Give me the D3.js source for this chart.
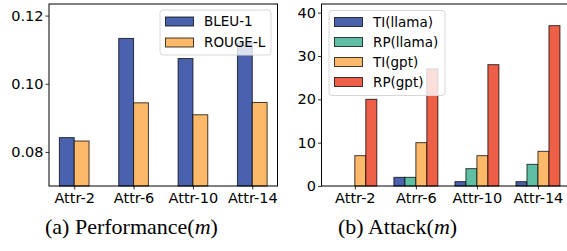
<!DOCTYPE html>
<html>
<head>
<meta charset="utf-8">
<script src="https://cdn.jsdelivr.net/npm/d3@7"></script>
<style>
  body { margin: 0; background: #fff; }
  svg { display: block; }
  .tick text { font-family: "DejaVu Sans", sans-serif; }
</style>
</head>
<body>
<div id="chart"></div>
<script>
// data
const perfCats = ["Attr-2", "Attr-6", "Attr-10", "Attr-14"];
const bleu1 = [0.0842, 0.1133, 0.1074, 0.1120];
const rougeL = [0.0832, 0.0944, 0.0909, 0.0945];
const perfTicks = [0.08, 0.10, 0.12];

const attackCats = ["Attr-2", "Atrr-6", "Attr-10", "Attr-14"];
const tiLlama = [0, 2, 1, 1];
const rpLlama = [0, 2, 4, 5];
const tiGpt = [7, 10, 7, 8];
const rpGpt = [20, 27, 28, 37];
const attackTicks = [0, 10, 20, 30, 40];

const colors = { blue: "#4a62ad", green: "#5fbfa5", orange: "#fdb96a", red: "#ee5f48" };

const W = 567, H = 251;
const plotTop = 4, plotBottom = 186;

const svg = d3.select("#chart").append("svg")
    .attr("width", W)
    .attr("height", H);

function panel(opts) {
    const x = d3.scaleLinear().domain(opts.xDomain).range(opts.xRange);
    const y = d3.scaleLinear().domain(opts.yDomain).range([plotBottom, plotTop]);
    const n = opts.series.length;
    const bw = opts.barWidth;

    const g = svg.append("g");

    // bars
    opts.series.forEach((s, i) => {
        const off = (i - (n - 1) / 2) * bw;
        g.selectAll(null)
            .data(s.values)
            .enter().append("rect")
            .attr("x", (d, j) => x(j + off - bw / 2))
            .attr("width", x(bw) - x(0))
            .attr("y", d => y(d))
            .attr("height", d => y(opts.yDomain[0]) - y(d))
            .style("fill", s.color)
            .style("stroke", "#000")
            .style("stroke-opacity", 0.75)
            .style("stroke-width", 1);
    });

    // axes
    const xAxis = g.append("g")
        .attr("transform", "translate(0," + plotBottom + ")")
        .call(d3.axisBottom(x).tickValues(d3.range(opts.cats.length))
            .tickFormat(i => opts.cats[i]).tickSize(3.5).tickSizeOuter(0));
    const yAxis = g.append("g")
        .attr("transform", "translate(" + opts.xRange[0] + ",0)")
        .call(d3.axisLeft(y).tickValues(opts.yTicks).tickFormat(opts.yFormat)
            .tickSize(3.5).tickSizeOuter(0));
    [xAxis, yAxis].forEach(a => {
        a.select(".domain").remove();
        a.selectAll(".tick line").style("stroke", "#000").style("stroke-width", 0.8);
        a.selectAll(".tick text").style("font-size", "14.5px").style("fill", "#000");
    });
    xAxis.selectAll(".tick text").attr("dy", "0.85em").attr("y", 4.5);
    yAxis.selectAll(".tick text").attr("x", -5.5);

    // frame
    g.append("rect")
        .attr("x", opts.xRange[0])
        .attr("y", plotTop)
        .attr("width", opts.xRange[1] - opts.xRange[0])
        .attr("height", plotBottom - plotTop)
        .style("fill", "none")
        .style("stroke", "#000")
        .style("stroke-width", 1);

    // legend
    const L = opts.legend;
    const lg = g.append("g").attr("transform", "translate(" + L.x + "," + L.y + ")");
    lg.append("rect")
        .attr("width", L.w)
        .attr("height", L.h)
        .attr("rx", 3)
        .style("fill", "#fff")
        .style("fill-opacity", 0.8)
        .style("stroke", "#d8d8d8")
        .style("stroke-width", 1);
    opts.series.forEach((s, i) => {
        const row = lg.append("g").attr("transform", "translate(0," + (7 + i * L.step) + ")");
        row.append("rect")
            .attr("x", 5.5)
            .attr("width", 28)
            .attr("height", 9)
            .style("fill", s.color)
            .style("stroke", "#000")
            .style("stroke-opacity", 0.75);
        row.append("text")
            .attr("x", 44)
            .attr("y", 4.5)
            .attr("dy", "0.35em")
            .style("font-family", "DejaVu Sans, sans-serif")
            .style("font-size", "13.5px")
            .text(s.name);
    });

    // caption
    const cap = svg.append("text")
        .attr("x", opts.caption.x)
        .attr("y", 234)
        .style("font-family", "Liberation Serif, serif")
        .style("font-size", "22px");
    cap.append("tspan").text(opts.caption.text + "(");
    cap.append("tspan").style("font-style", "italic").text("m");
    cap.append("tspan").text(")");
}

panel({
    cats: perfCats,
    xDomain: [-0.425, 3.425],
    xRange: [49, 277.5],
    yDomain: [0.07, 0.1234],
    yTicks: perfTicks,
    yFormat: d3.format(".2f"),
    barWidth: 0.25,
    series: [
        { name: "BLEU-1", values: bleu1, color: colors.blue },
        { name: "ROUGE-L", values: rougeL, color: colors.orange }
    ],
    legend: { x: 160, y: 10, w: 111, h: 45, step: 21 },
    caption: { x: 45, text: "(a) Performance" }
});

panel({
    cats: attackCats,
    xDomain: [-0.546, 3.546],
    xRange: [321.5, 571.3],
    yDomain: [0, 42],
    yTicks: attackTicks,
    yFormat: d3.format("d"),
    barWidth: 0.18,
    series: [
        { name: "TI(llama)", values: tiLlama, color: colors.blue },
        { name: "RP(llama)", values: rpLlama, color: colors.green },
        { name: "TI(gpt)", values: tiGpt, color: colors.orange },
        { name: "RP(gpt)", values: rpGpt, color: colors.red }
    ],
    legend: { x: 329, y: 10.5, w: 116, h: 85, step: 20 },
    caption: { x: 338, text: "(b) Attack" }
});
</script>
</body>
</html>
